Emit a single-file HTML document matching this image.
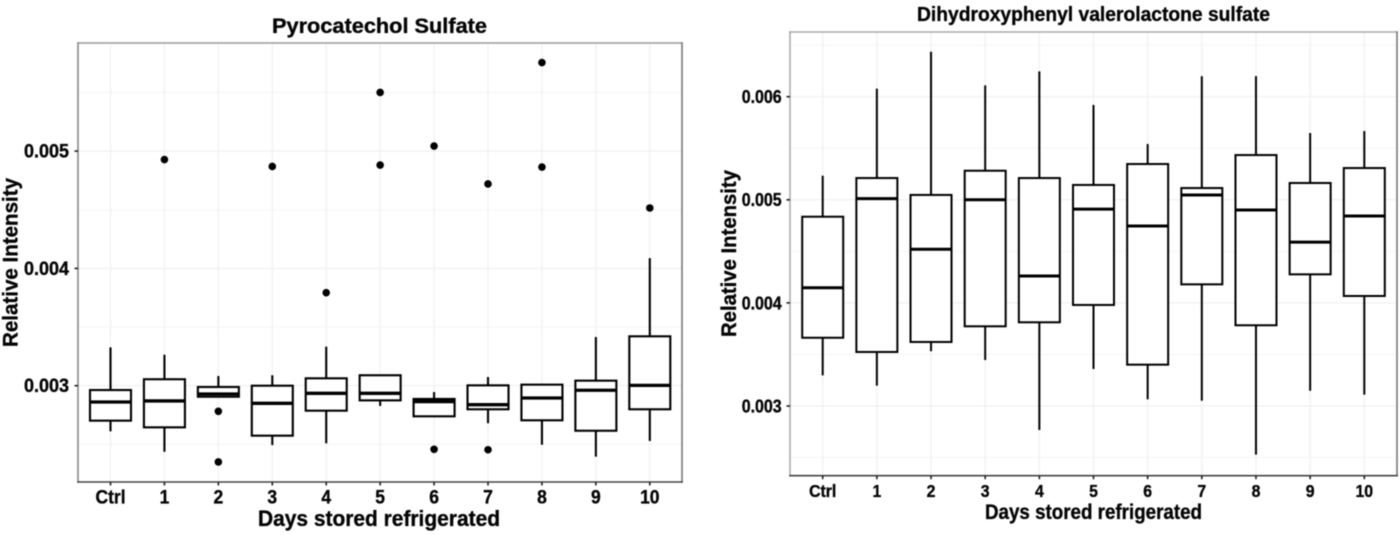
<!DOCTYPE html>
<html lang="en">
<head>
<meta charset="utf-8">
<title>Pyrocatechol Sulfate and Dihydroxyphenyl valerolactone sulfate</title>
<style>
html,body{margin:0;padding:0;background:#fff;width:1400px;height:535px;overflow:hidden}
svg{display:block;filter:blur(0.5px)}
text{font-family:"Liberation Sans",Arial,sans-serif;font-weight:bold;fill:#050505;stroke:#050505;stroke-width:0.35px}
</style>
</head>
<body>
<svg id="figure" xmlns="http://www.w3.org/2000/svg" width="1400" height="535" viewBox="0 0 1400 535">
  <g id="left-chart"></g>
  <g id="right-chart"></g>
  <text x="379.5" y="33" font-size="21.5" text-anchor="middle" textLength="215" lengthAdjust="spacingAndGlyphs">Pyrocatechol Sulfate</text>
  <text x="379" y="526" font-size="22" text-anchor="middle" textLength="242" lengthAdjust="spacingAndGlyphs">Days stored refrigerated</text>
  <text transform="translate(17.5 262.5) rotate(-90)" font-size="21.5" text-anchor="middle" textLength="169" lengthAdjust="spacingAndGlyphs">Relative Intensity</text>
  <text x="1093.5" y="21" font-size="20.5" text-anchor="middle" textLength="353" lengthAdjust="spacingAndGlyphs">Dihydroxyphenyl valerolactone sulfate</text>
  <text x="1093.5" y="519" font-size="21.5" text-anchor="middle" textLength="217" lengthAdjust="spacingAndGlyphs">Days stored refrigerated</text>
  <text transform="translate(736 253.5) rotate(-90)" font-size="21" text-anchor="middle" textLength="167" lengthAdjust="spacingAndGlyphs">Relative Intensity</text>
</svg>
<script>
const categories = ['Ctrl','1','2','3','4','5','6','7','8','9','10'];

const leftMajorTicks = [0.003,0.004,0.005];
const leftMinorTicks = [0.0025,0.0035,0.0045,0.0055];
const leftTickLabels = ['0.003','0.004','0.005'];
const leftWhiskerHigh = [0.003327,0.003264,0.003083,0.003089,0.003333,0.003089,0.002946,0.003074,0.003009,0.003415,0.004088];
const leftQ3 = [0.002963,0.003055,0.002989,0.003000,0.003063,0.003089,0.002887,0.003003,0.003009,0.003043,0.003421];
const leftMedian = [0.002861,0.002870,0.002929,0.002850,0.002935,0.002935,0.002864,0.002838,0.002895,0.002961,0.003003];
const leftQ1 = [0.002702,0.002645,0.002906,0.002574,0.002787,0.002875,0.002739,0.002799,0.002705,0.002616,0.002799];
const leftWhiskerLow = [0.002611,0.002437,0.002906,0.002494,0.002509,0.002827,0.002739,0.002680,0.002497,0.002395,0.002529];
const leftOutliers = [[],[0.004928],[0.002782,0.002350],[0.004869],[0.003793],[0.005500,0.004881],[0.005043,0.002458],[0.004720,0.002454],[0.005755,0.004864],[],[0.004515]];

const rightMajorTicks = [0.003,0.004,0.005,0.006];
const rightMinorTicks = [0.0025,0.0035,0.0045,0.0055,0.0065];
const rightTickLabels = ['0.003','0.004','0.005','0.006'];
const rightWhiskerHigh = [0.005234,0.006078,0.006436,0.006110,0.006246,0.005920,0.005541,0.006200,0.006200,0.005648,0.005667];
const rightQ3 = [0.004836,0.005211,0.005047,0.005282,0.005211,0.005144,0.005347,0.005114,0.005434,0.005163,0.005308];
const rightMedian = [0.004147,0.005011,0.004520,0.005001,0.004261,0.004910,0.004746,0.005047,0.004901,0.004590,0.004843];
const rightQ1 = [0.003662,0.003524,0.003621,0.003773,0.003812,0.003980,0.003401,0.004180,0.003783,0.004277,0.004067];
const rightWhiskerLow = [0.003297,0.003197,0.003531,0.003446,0.002767,0.003359,0.003065,0.003051,0.002528,0.003148,0.003110];
const rightOutliers = [[],[],[],[],[],[],[],[],[],[],[]];

const NS = 'http://www.w3.org/2000/svg';

function makeNode(parent, tag, attrs) {
  const el = document.createElementNS(NS, tag);
  for (const k in attrs) el.setAttribute(k, attrs[k]);
  parent.appendChild(el);
  return el;
}

function drawChart(target, prefix, o, d) {
  const root = document.getElementById(target);
  const xPos = i => o.x0 + i * o.step;
  const yPos = v => o.y3 - (v - 0.003) * o.pxPerUnit;

  const panel = makeNode(root, 'rect', {x:o.left, y:o.top, width:o.right-o.left, height:o.bottom-o.top, fill:'#fff'});
  
  

  d.minor.forEach(v => {
    const g = makeNode(root, 'line', {x1:o.left, x2:o.right, y1:yPos(v), y2:yPos(v), stroke:'#f5f5f5', 'stroke-width':1});
    
    
  });
  d.major.forEach(v => {
    const g = makeNode(root, 'line', {x1:o.left, x2:o.right, y1:yPos(v), y2:yPos(v), stroke:'#f0f0f0', 'stroke-width':1.2});
    
    
  });
  categories.forEach((c, i) => {
    const g = makeNode(root, 'line', {x1:xPos(i), x2:xPos(i), y1:o.top, y2:o.bottom, stroke:'#f0f0f0', 'stroke-width':1.2});
    
    
  });

  categories.forEach((c, i) => {
    const x = xPos(i);
    const group = makeNode(root, 'g', {});
    
    
    makeNode(group, 'line', {x1:x, x2:x, y1:yPos(d.high[i]), y2:yPos(d.q3[i]), stroke:'#000', 'stroke-width':o.line});
    makeNode(group, 'line', {x1:x, x2:x, y1:yPos(d.q1[i]), y2:yPos(d.low[i]), stroke:'#000', 'stroke-width':o.line});
    makeNode(group, 'rect', {x:x-o.boxW/2, y:yPos(d.q3[i]), width:o.boxW, height:yPos(d.q1[i])-yPos(d.q3[i]), fill:'#fff', stroke:'#000', 'stroke-width':o.line});
    makeNode(group, 'line', {x1:x-o.boxW/2, x2:x+o.boxW/2, y1:yPos(d.med[i]), y2:yPos(d.med[i]), stroke:'#000', 'stroke-width':o.medianW});
    d.out[i].forEach(v => {
      const p = makeNode(group, 'circle', {cx:x, cy:yPos(v), r:3.8, fill:'#000'});
      
      
    });
  });

  const borders = [
    [o.left,o.top,o.right,o.top,o.topColor],
    [o.right,o.top,o.right,o.bottom,'#777'],
    [o.left,o.top,o.left,o.bottom,o.leftColor],
    [o.left,o.bottom,o.right,o.bottom,'#444']
  ];
  borders.forEach(b => {
    const s = makeNode(root, 'line', {x1:b[0], y1:b[1], x2:b[2], y2:b[3], stroke:b[4], 'stroke-width':1.6, 'stroke-linecap':'square'});
    
    
  });

  d.major.forEach((v, i) => {
    const t = makeNode(root, 'line', {x1:o.left-3.5, x2:o.left, y1:yPos(v), y2:yPos(v), stroke:'#222', 'stroke-width':1.6});
    
    
    const l = makeNode(root, 'text', {x:o.yLabelX, y:yPos(v)+6.4, 'font-size':o.tickFont, 'text-anchor':'end', textLength:o.yLabelW, lengthAdjust:'spacingAndGlyphs'});
    
    
    l.textContent = d.labels[i];
  });
  categories.forEach((c, i) => {
    const t = makeNode(root, 'line', {x1:xPos(i), x2:xPos(i), y1:o.bottom, y2:o.bottom+3.5, stroke:'#222', 'stroke-width':1.6});
    
    
    const l = makeNode(root, 'text', {transform:'translate(' + xPos(i) + ' ' + o.xLabelY + ') scale(' + o.xLabelScale + ' 1)', 'font-size':o.tickFont, 'text-anchor':'middle'});
    
    
    l.textContent = c;
  });
}

drawChart('left-chart', 'left',
  {left:78, right:682, top:43, bottom:482, x0:110.5, step:53.93, y3:385.7, pxPerUnit:117300, boxW:41, line:2.1, medianW:3.3, tickFont:19, xLabelScale:0.92, yLabelX:69, yLabelW:45, xLabelY:503.5, topColor:'#999', leftColor:'#888'},
  {major:leftMajorTicks, minor:leftMinorTicks, labels:leftTickLabels, high:leftWhiskerHigh, q3:leftQ3, med:leftMedian, q1:leftQ1, low:leftWhiskerLow, out:leftOutliers});

drawChart('right-chart', 'right',
  {left:790, right:1397, top:32, bottom:475.7, x0:822.7, step:54.16, y3:406, pxPerUnit:103100, boxW:41, line:2, medianW:3, tickFont:18, xLabelScale:0.88, yLabelX:781.7, yLabelW:40, xLabelY:497, topColor:'#aaa', leftColor:'#aaa'},
  {major:rightMajorTicks, minor:rightMinorTicks, labels:rightTickLabels, high:rightWhiskerHigh, q3:rightQ3, med:rightMedian, q1:rightQ1, low:rightWhiskerLow, out:rightOutliers});
</script>
</body>
</html>
